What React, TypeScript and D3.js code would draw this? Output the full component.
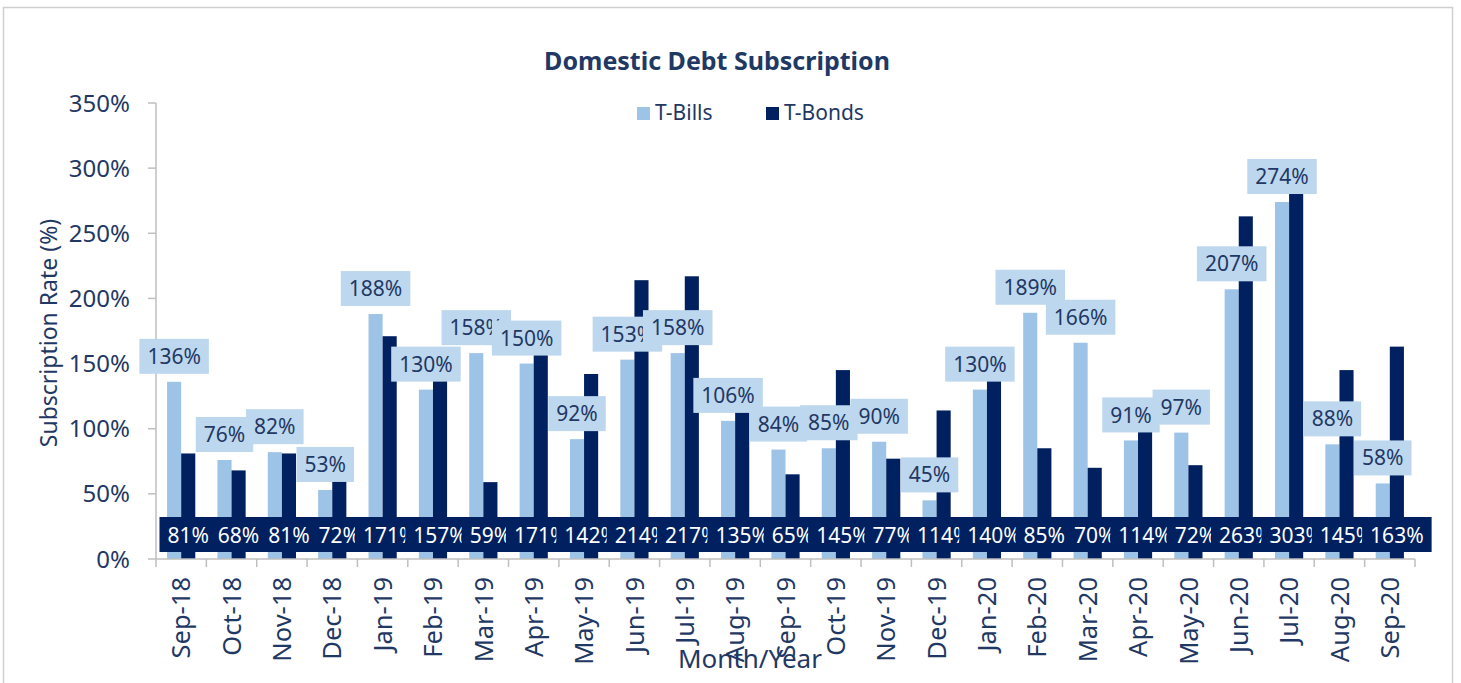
import React, { useEffect, useRef } from "react";
import * as d3 from "d3";

const months = ["Sep-18","Oct-18","Nov-18","Dec-18","Jan-19","Feb-19","Mar-19","Apr-19","May-19","Jun-19","Jul-19","Aug-19","Sep-19","Oct-19","Nov-19","Dec-19","Jan-20","Feb-20","Mar-20","Apr-20","May-20","Jun-20","Jul-20","Aug-20","Sep-20"];
const tBills = [136,76,82,53,188,130,158,150,92,153,158,106,84,85,90,45,130,189,166,91,97,207,274,88,58];
const tBonds = [81,68,81,72,171,157,59,171,142,214,217,135,65,145,77,114,140,85,70,114,72,263,303,145,163];
const yTicks = [0,50,100,150,200,250,300,350];
const seriesNames = ["T-Bills","T-Bonds"];

const W = 1461, H = 683;
const FONT = "'Noto Sans', sans-serif";
const TXT = "#1F3864";
const C_BILLS = "#9DC3E6";
const C_BONDS = "#002060";
const C_LBL = "#BDD7EE";

export default function App() {
  const ref = useRef<SVGSVGElement>(null);
  useEffect(() => {
    const svg = d3.select(ref.current);
    svg.selectAll("*").remove();
    const left = 156, right = 1415, top = 103, bottom = 559;

    svg.append("rect").attr("x", 3.5).attr("y", 7.5).attr("width", 1449).attr("height", 700)
      .attr("fill", "white").attr("stroke", "#D0D0D0").attr("stroke-width", 1.5);

    const x = d3.scaleBand<string>().domain(months).range([left, right]).paddingInner(0).paddingOuter(0);
    const y = d3.scaleLinear().domain([0, 350]).range([bottom, top]);
    const barW = x.step() * 0.28;

    // title
    svg.append("text").attr("x", 717).attr("y", 70).attr("text-anchor", "middle")
      .attr("font-family", FONT).attr("font-weight", "bold").attr("font-size", 25).attr("fill", TXT)
      .text("Domestic Debt Subscription");

    // legend
    const leg = [{ n: seriesNames[0], c: C_BILLS, x: 637 }, { n: seriesNames[1], c: C_BONDS, x: 766 }];
    leg.forEach(l => {
      svg.append("rect").attr("x", l.x).attr("y", 107).attr("width", 13).attr("height", 13).attr("fill", l.c);
      svg.append("text").attr("x", l.x + 18).attr("y", 120).attr("font-family", FONT).attr("font-size", 21)
        .attr("fill", TXT).text(l.n);
    });

    // y axis
    svg.append("line").attr("x1", left).attr("x2", left).attr("y1", top).attr("y2", bottom)
      .attr("stroke", "#BFBFBF").attr("stroke-width", 1.5);
    yTicks.forEach(t => {
      svg.append("line").attr("x1", left - 8).attr("x2", left).attr("y1", y(t)).attr("y2", y(t))
        .attr("stroke", "#BFBFBF").attr("stroke-width", 1.5);
      svg.append("text").attr("x", 130).attr("y", y(t)).attr("dy", "0.36em").attr("text-anchor", "end")
        .attr("font-family", FONT).attr("font-size", 24).attr("fill", TXT).text(t + "%");
    });
    svg.append("text").attr("transform", `translate(57,333) rotate(-90)`).attr("text-anchor", "middle")
      .attr("font-family", FONT).attr("font-size", 23).attr("fill", TXT).text("Subscription Rate (%)");

    // bars
    months.forEach((m, i) => {
      const c = x(m)! + x.bandwidth() / 2;
      svg.append("rect").attr("x", c - barW).attr("width", barW).attr("y", y(tBills[i]))
        .attr("height", y(0) - y(tBills[i])).attr("fill", C_BILLS);
      svg.append("rect").attr("x", c).attr("width", barW).attr("y", y(tBonds[i]))
        .attr("height", y(0) - y(tBonds[i])).attr("fill", C_BONDS);
    });

    // x axis
    svg.append("line").attr("x1", left).attr("x2", right).attr("y1", bottom).attr("y2", bottom)
      .attr("stroke", "#BFBFBF").attr("stroke-width", 1.5);
    for (let i = 0; i <= months.length; i++) {
      const tx = left + i * x.step();
      svg.append("line").attr("x1", tx).attr("x2", tx).attr("y1", bottom).attr("y2", bottom + 8)
        .attr("stroke", "#BFBFBF").attr("stroke-width", 1.5);
    }
    months.forEach(m => {
      const c = x(m)! + x.bandwidth() / 2;
      svg.append("text").attr("transform", `translate(${c},577) rotate(-90)`).attr("dy", "0.36em")
        .attr("text-anchor", "end").attr("font-family", FONT).attr("font-size", 25.5).attr("fill", TXT).text(m);
    });
    svg.append("text").attr("x", 750).attr("y", 668).attr("text-anchor", "middle")
      .attr("font-family", FONT).attr("font-size", 26).attr("fill", TXT).text("Month/Year");

    // bill labels
    const padX = 8, boxH = 35;
    months.forEach((m, i) => {
      const c = x(m)! + x.bandwidth() / 2 - barW / 2;
      const yb = y(tBills[i]) - 8;
      const g = svg.append("g");
      const r = g.append("rect").attr("fill", C_LBL);
      const t = g.append("text").attr("x", c).attr("y", yb - boxH / 2).attr("dy", "0.36em")
        .attr("text-anchor", "middle").attr("font-family", FONT).attr("font-size", 21).attr("fill", TXT)
        .text(tBills[i] + "%");
      const w = (t.node() as SVGTextElement).getComputedTextLength() + padX * 2;
      r.attr("x", c - w / 2).attr("y", yb - boxH).attr("width", w).attr("height", boxH);
    });
    // bond labels (inside base)
    months.forEach((m, i) => {
      const c = x(m)! + x.bandwidth() / 2 + barW / 2;
      const g = svg.append("g");
      const r = g.append("rect").attr("fill", C_BONDS);
      const t = g.append("text").attr("x", c).attr("y", 535).attr("dy", "0.36em")
        .attr("text-anchor", "middle").attr("font-family", FONT).attr("font-size", 21).attr("fill", "white")
        .text(tBonds[i] + "%");
      const w = (t.node() as SVGTextElement).getComputedTextLength() + padX * 2;
      r.attr("x", c - w / 2).attr("y", 517).attr("width", w).attr("height", boxH);
    });
  }, []);
  return (
    <svg ref={ref} width={W} height={H} style={{ position: "absolute", left: 0, top: 0, background: "white" }} />
  );
}
